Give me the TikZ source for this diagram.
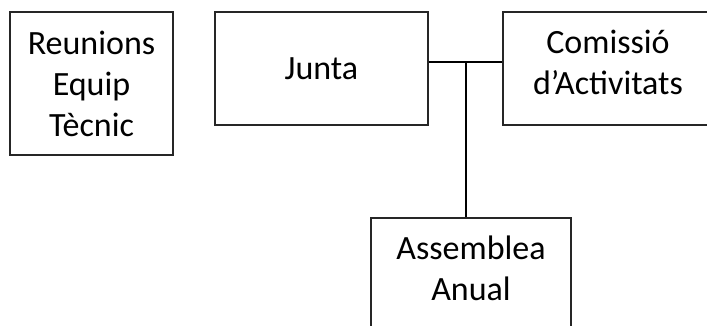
\documentclass[tikz,border=0pt]{standalone}
\usepackage{fontspec}
\setmainfont{Carlito}
\begin{document}
\begin{tikzpicture}[x=1pt,y=-1pt,
  box/.style={draw=black!85, line width=1.6pt, inner sep=0pt, align=center,
    font=\fontsize{34}{41}\selectfont, text=black},
  raised/.style={text depth=12pt},
  conn/.style={draw=black, line width=1.5pt}]
\useasboundingbox (0,0) rectangle (707,326);
\node[box, minimum width=163pt, minimum height=143pt] (reu) at (91.5,83.5) {Reunions\\Equip\\Tècnic};
\node[box, minimum width=213pt, minimum height=113pt] (junta) at (321.5,68.5) {Junta};
\node[box, raised, minimum width=210pt, minimum height=113pt] (com) at (608,68.5) {Comissió\\d’Activitats};
\node[box, raised, minimum width=200pt, minimum height=113pt] (ass) at (471,274.5) {Assemblea\\Anual};
\coordinate (jn) at (466,62);
\draw[conn] (junta.east |- jn) -- (com.west |- jn);
\draw[conn] (jn) -- (ass.north -| jn);
\end{tikzpicture}
\end{document}
